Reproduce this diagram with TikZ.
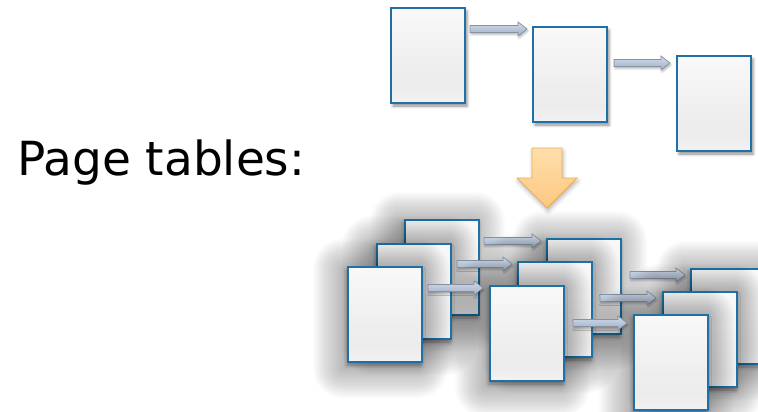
\documentclass[tikz,border=0pt]{standalone}
\usepackage{fontspec}
\setmainfont{DejaVu Sans}
\usetikzlibrary{calc,shadows.blur}

\definecolor{pageedge}{RGB}{32,112,165}
\definecolor{arrowedge}{RGB}{135,145,160}
\definecolor{arrowtop}{RGB}{210,220,235}
\definecolor{arrowbot}{RGB}{158,174,198}
\definecolor{downtop}{RGB}{254,222,172}
\definecolor{downbot}{RGB}{252,200,128}
\definecolor{downedge}{RGB}{236,174,78}

% light page body: pale at the top, a little darker near the foot
\pgfdeclareverticalshading{pageshade}{100bp}{%
  color(0bp)=(gray!10); color(25bp)=(gray!10); color(33bp)=(gray!15);
  color(45bp)=(gray!13); color(75bp)=(gray!5); color(100bp)=(gray!5)}

\tikzset{
  pagebox/.style={draw=pageedge, line width=2pt, shading=pageshade,
    minimum width=74, minimum height=95, inner sep=0pt, anchor=north west},
  topshadow/.style={blur shadow={shadow xshift=2pt, shadow yshift=-3pt,
    shadow blur radius=3pt, shadow opacity=45}},
  stackshadow/.style={blur shadow={shadow xshift=-1pt, shadow yshift=-3pt,
    shadow blur radius=4pt, shadow opacity=40}},
  hazelayer/.style={fill=black, fill opacity=0.016, draw=none},
  linkstyle/.style={draw=arrowedge, line width=0.7pt,
    top color=arrowtop, bottom color=arrowbot,
    blur shadow={shadow xshift=1pt, shadow yshift=-2pt,
      shadow blur radius=2pt, shadow opacity=30}},
}

% block arrow from the right side of #1 to the left side of #2
% #3 = drop below the top of #1, #4 = gap after #1, #5 = gap before #2
\newcommand\linkarrow[5]{%
  \path[linkstyle] let \p1=($(#1.north east)+(#4,#3)$),
      \p2=($(#2.west)+(-#5,0)$) in
    (\x1,\y1+3.5pt) -- (\x2-9pt,\y1+3.5pt) -- (\x2-9pt,\y1+7pt)
    -- (\x2,\y1) -- (\x2-9pt,\y1-7pt) -- (\x2-9pt,\y1-3.5pt)
    -- (\x1,\y1-3.5pt) -- cycle;}

% a page of the stacked chains, with a wide soft shadow built from
% nested translucent rounded rectangles
\newcommand\stackpage[3]{%
  \foreach \r in {30,28.5,...,1.5}{%
    \path[hazelayer, rounded corners=\r]
      (#2-4-\r,#3+3-\r) rectangle (#2+74-3+\r,#3+95+7+\r);}
  \node[pagebox, stackshadow] (#1) at (#2,#3) {};}

\begin{document}
\begin{tikzpicture}[x=1pt, y=-1pt]
\useasboundingbox (0,0) rectangle (758,412);

% caption
\node[anchor=base west, inner sep=0pt, font=\fontsize{47}{56}\selectfont]
  (title) at (17,175) {Page tables:};

% single chain of page tables
\node[pagebox, topshadow] (t1) at (390,7) {};
\node[pagebox, topshadow] (t2) at (532,26) {};
\node[pagebox, topshadow] (t3) at (676,55) {};
\linkarrow{t1}{t2}{22}{4}{5}
\linkarrow{t2}{t3}{37}{6}{6}

% downward arrow
\path[draw=downedge, line width=0.8pt, top color=downtop, bottom color=downbot,
      blur shadow={shadow xshift=1pt, shadow yshift=-3pt,
        shadow blur radius=4pt, shadow opacity=30}]
  (532,148) -- (562,148) -- (562,178) -- (577,178) -- (547,208)
  -- (517,178) -- (532,178) -- cycle;

% several chains stacked behind each other: back layer
\stackpage{a3}{404}{219}
\stackpage{b3}{546}{238}
\stackpage{c3}{690}{268}
\linkarrow{a3}{b3}{22}{4}{5}
\linkarrow{b3}{c3}{37}{8}{5}

% middle layer
\stackpage{a2}{376}{243}
\stackpage{b2}{517}{261}
\stackpage{c2}{662}{291}
\linkarrow{a2}{b2}{21}{5}{5}
\linkarrow{b2}{c2}{37}{7}{6}

% front layer
\stackpage{a1}{347}{266}
\stackpage{b1}{489}{285}
\stackpage{c1}{633}{314}
\linkarrow{a1}{b1}{22}{5}{6}
\linkarrow{b1}{c1}{38}{8}{6}
\end{tikzpicture}
\end{document}
